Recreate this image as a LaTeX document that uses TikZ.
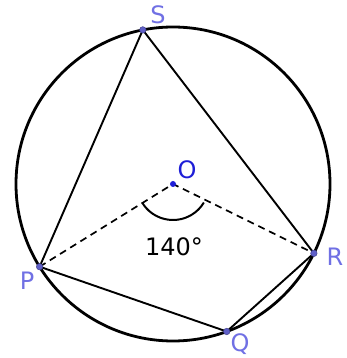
\documentclass[tikz,border=0pt]{standalone}
\usepackage{fontspec}
\setmainfont{DejaVu Sans}
\definecolor{lbl}{RGB}{112,112,228}
\definecolor{olbl}{RGB}{30,30,215}
\definecolor{dotc}{RGB}{95,95,200}
\begin{document}
\begin{tikzpicture}[x=1pt,y=1pt,
  ptlabel/.style={text=lbl,font=\fontsize{24}{28}\selectfont,inner sep=0pt},
  ptdot/.style={circle,fill=dotc,draw=dotc!70!black,line width=0.5pt,inner sep=0pt,minimum size=6.5pt},
  chord/.style={line width=1.9pt,line cap=round},
  radius line/.style={line width=1.7pt,dash pattern=on 7pt off 5pt}]
\useasboundingbox (0,0) rectangle (346,358);
\coordinate (C) at (173,174);
\draw[line width=2.8pt] (C) circle[radius=157];
\coordinate (O) at (173,174);
\coordinate (S) at (142.8,328.1);
\coordinate (P) at (39.6,91.3);
\coordinate (R) at (313.9,104.7);
\coordinate (Q) at (226.7,26.5);
\draw[chord] (P) -- (S) -- (R) -- (Q) -- (P);
\draw[radius line] (P) -- (O) -- (R);
\draw[line width=2pt] (O) ++(211:36) arc[start angle=211,end angle=329,radius=36];
\node[ptdot] (Sd) at (S) {};
\node[ptdot] (Pd) at (P) {};
\node[ptdot] (Rd) at (R) {};
\node[ptdot] (Qd) at (Q) {};
\node[circle,fill=olbl,inner sep=0pt,minimum size=6pt] (Od) at (O) {};
\node[ptlabel] (Sl) at (158,343) {S};
\node[ptlabel,text=olbl] (Ol) at (187,188) {O};
\node[ptlabel] (Pl) at (27,77) {P};
\node[ptlabel] (Rl) at (335,101) {R};
\node[ptlabel] (Ql) at (240,14) {Q};
\node[font=\fontsize{24}{28}\selectfont,inner sep=0pt] (ang) at (174,111) {140°};
\end{tikzpicture}
\end{document}
